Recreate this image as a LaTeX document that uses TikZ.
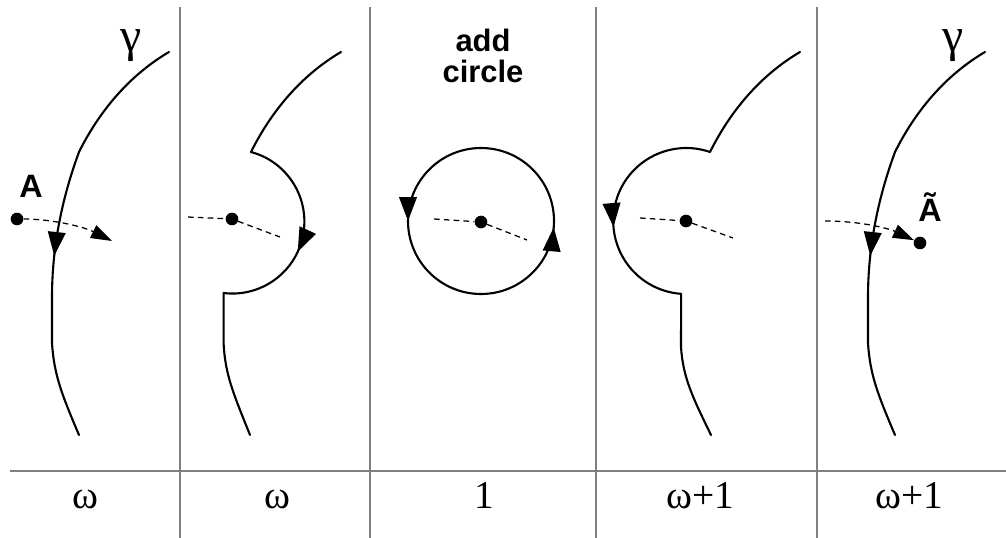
\documentclass[tikz,border=0pt]{standalone}
\usepackage{fontspec}
\setmainfont{Liberation Serif}
\setsansfont{Liberation Sans}
\usetikzlibrary{arrows.meta,decorations.markings}

\begin{document}
\begin{tikzpicture}[x=0.025cm, y=-0.025cm,
  curve/.style={line width=1.5pt, line cap=round, line join=round},
  sep/.style={line width=1.1pt, black!50},
  trail/.style={line width=0.9pt, dash pattern=on 4pt off 3pt},
  dot/.style={circle, fill, inner sep=0pt, minimum size=9pt},
  tip/.style={-{Triangle[length=15pt,width=10pt]}},
  mid tip/.style={postaction={decorate}, decoration={markings,
      mark=at position #1 with {\arrow{Triangle[length=17pt,width=12.5pt]}}}},
  ring tips/.style={postaction={decorate}, decoration={markings,
      mark=at position 0.25 with {\arrow{Triangle[length=17pt,width=12.5pt]}},
      mark=at position 0.736 with {\arrow{Triangle[length=17pt,width=12.5pt]}}}},
  greek/.style={font=\fontsize{34}{34}\selectfont},
  count/.style={font=\fontsize{28}{28}\selectfont, anchor=base},
  tag/.style={font=\sffamily\bfseries\fontsize{23}{23}\selectfont},
]
  \useasboundingbox (0,0) rectangle (1006,538);

  % frame
  \draw[sep] (10,471) -- (1006,471);
  \draw[sep] (180,7) -- (180,538);
  \draw[sep] (370,7) -- (370,538);
  \draw[sep] (596,7) -- (596,538);
  \draw[sep] (817,7) -- (817,538);

  % panel 1
  \draw[curve, mid tip=0.57] (169,52) .. controls (130,75) and (100,110) .. (79,152)
    .. controls (65,190) and (52,240) .. (52,297) -- (52,343)
    .. controls (54,375) and (62,395) .. (79,435);
  \node[greek] (gam1) at (131,46) {γ};
  \node[dot] (A) at (17,219) {};
  \node[tag] (labA) at (31,186) {A};
  \coordinate (A1) at (112,241);
  \draw[trail, tip] (A) .. controls (50,219) and (82,226) .. (A1);

  % panel 2
  \begin{scope}[shift={(172,0)}]
    \draw[curve, mid tip=0.525] (169,52) .. controls (130,75) and (100,110) .. (79,152)
      arc[start angle=-75, end angle=97, radius=72] -- (51.6,343)
      .. controls (53,375) and (62,395) .. (78,435);
  \end{scope}
  \node[dot] (P2) at (232,219) {};
  \coordinate (l2) at (188,217);
  \coordinate (r2) at (280,237);
  \draw[trail] (l2) -- (P2) -- (r2);

  % panel 3
  \node[tag, align=center, font=\sffamily\bfseries\fontsize{22}{22}\selectfont] (add) at (483,56) {add\\circle};
  \draw[curve, ring tips] (481,148) arc[start angle=-90, end angle=-450, radius=73];
  \node[dot] (P3) at (481,222) {};
  \coordinate (l3) at (434,219);
  \coordinate (r3) at (527,240);
  \draw[trail] (l3) -- (P3) -- (r3);

  % panel 4
  \begin{scope}[shift={(631,0)}]
    \draw[curve, mid tip=0.529] (169,52) .. controls (130,75) and (100,110) .. (79,152)
      arc[start angle=-71, end angle=-266, radius=73] -- (50,347)
      .. controls (52,378) and (62,398) .. (80,435);
  \end{scope}
  \node[dot] (P4) at (686,221) {};
  \coordinate (l4) at (640,218);
  \coordinate (r4) at (733,238);
  \draw[trail] (l4) -- (P4) -- (r4);

  % panel 5
  \begin{scope}[shift={(816,0)}]
    \draw[curve, mid tip=0.57] (169,52) .. controls (130,75) and (100,110) .. (79,152)
      .. controls (65,190) and (52,240) .. (52,297) -- (52,343)
      .. controls (54,375) and (62,395) .. (79,435);
  \end{scope}
  \node[greek] (gam5) at (953,46) {γ};
  \node[dot] (At) at (920,243) {};
  \node[tag] (labAt) at (930,207) {Ã};
  \coordinate (B5) at (825,221);
  \draw[trail, tip] (B5) .. controls (862,221) and (890,229) .. (At);

  % ordinals
  \node[count] (o1) at (85,508) {ω};
  \node[count] (o2) at (277,508) {ω};
  \node[count] (o3) at (484,508) {1};
  \node[count] (o4) at (700,508) {ω+1};
  \node[count] (o5) at (909,508) {ω+1};
\end{tikzpicture}
\end{document}
